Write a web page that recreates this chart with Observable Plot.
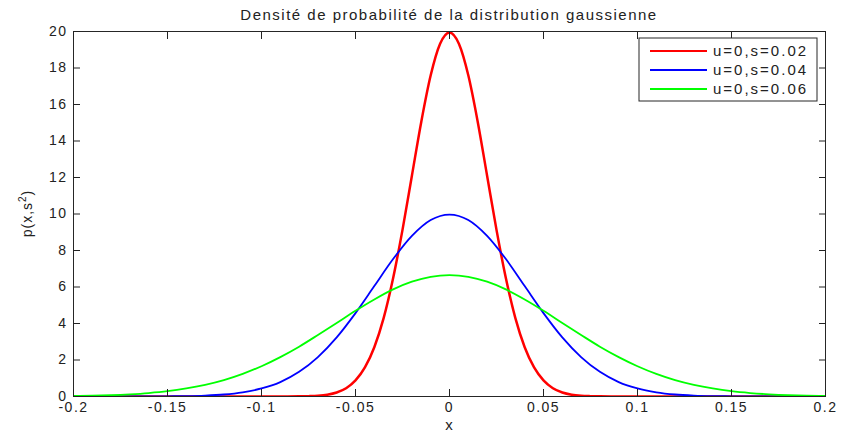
<!DOCTYPE html>
<html>
<head>
<meta charset="utf-8">
<script src="https://cdn.jsdelivr.net/npm/d3@7"></script>
<script src="https://cdn.jsdelivr.net/npm/@observablehq/plot@0.6"></script>
<style>
  html, body { margin: 0; padding: 0; background: #fff; }
  #chart { position: relative; width: 842px; height: 432px; }
</style>
</head>
<body>
<div id="chart"></div>
<script>
const titleText = "Densité de probabilité de la distribution gaussienne";
const xLabel = "x";
const xTicks = [-0.2, -0.15, -0.1, -0.05, 0, 0.05, 0.1, 0.15, 0.2];
const yTicks = [0, 2, 4, 6, 8, 10, 12, 14, 16, 18, 20];
const seriesNames = ["u=0,s=0.02", "u=0,s=0.04", "u=0,s=0.06"];
const seriesColors = ["#ff0000", "#0000ff", "#00ff00"];
const seriesWidths = [2.5, 1.8, 1.8];

// s = 0.02 (red)
const redX = [-0.2, -0.09, -0.08, -0.075, -0.07, -0.065, -0.06, -0.055, -0.05, -0.045, -0.04, -0.035, -0.03, -0.025, -0.02, -0.015, -0.01, -0.005, 0,
              0.005, 0.01, 0.015, 0.02, 0.025, 0.03, 0.035, 0.04, 0.045, 0.05, 0.055, 0.06, 0.065, 0.07, 0.075, 0.08, 0.09, 0.2];
const redY = [0, 0, 0.007, 0.02, 0.044, 0.10, 0.22, 0.45, 0.88, 1.59, 2.70, 4.31, 6.48, 9.13, 12.10, 15.06, 17.60, 19.33, 19.95,
              19.33, 17.60, 15.06, 12.10, 9.13, 6.48, 4.31, 2.70, 1.59, 0.88, 0.45, 0.22, 0.10, 0.044, 0.02, 0.007, 0, 0];

// s = 0.04 (blue) and s = 0.06 (green), on a 0.01 grid
const gridX = [-0.2, -0.19, -0.18, -0.17, -0.16, -0.15, -0.14, -0.13, -0.12, -0.11, -0.1, -0.09, -0.08, -0.07, -0.06, -0.05, -0.04, -0.03, -0.02, -0.01, 0,
               0.01, 0.02, 0.03, 0.04, 0.05, 0.06, 0.07, 0.08, 0.09, 0.1, 0.11, 0.12, 0.13, 0.14, 0.15, 0.16, 0.17, 0.18, 0.19, 0.2];
const blueY = [0, 0, 0, 0, 0, 0.01, 0.02, 0.05, 0.11, 0.23, 0.44, 0.79, 1.35, 2.16, 3.24, 4.57, 6.05, 7.53, 8.80, 9.67, 9.97,
               9.67, 8.80, 7.53, 6.05, 4.57, 3.24, 2.16, 1.35, 0.79, 0.44, 0.23, 0.11, 0.05, 0.02, 0.01, 0, 0, 0, 0, 0];
const greenY = [0.03, 0.04, 0.07, 0.12, 0.19, 0.29, 0.44, 0.64, 0.90, 1.24, 1.66, 2.16, 2.73, 3.37, 4.03, 4.70, 5.32, 5.87, 6.29, 6.56, 6.65,
                6.56, 6.29, 5.87, 5.32, 4.70, 4.03, 3.37, 2.73, 2.16, 1.66, 1.24, 0.90, 0.64, 0.44, 0.29, 0.19, 0.12, 0.07, 0.04, 0.03];

const seriesX = [redX, gridX, gridX];
const seriesY = [redY, blueY, greenY];
const data = seriesNames.map((name, i) => seriesX[i].map((x, j) => ({series: name, x, y: seriesY[i][j]})));

const W = 842, H = 432;
const mL = 73, mR = 17, mT = 31, mB = 36;
const tick = 7;
const fontFamily = "'Liberation Sans', Arial, Helvetica, sans-serif";

const plot = Plot.plot({
  width: W, height: H,
  marginLeft: mL, marginRight: mR, marginTop: mT, marginBottom: mB,
  style: {fontFamily, fontSize: "14px", color: "#222", background: "#fff"},
  x: {domain: [-0.2, 0.2]},
  y: {domain: [0, 20]},
  marks: [
    ...data.map((d, i) => Plot.line(d, {x: "x", y: "y", stroke: seriesColors[i], strokeWidth: seriesWidths[i], curve: "monotone-x", clip: true})),
    Plot.frame({stroke: "#262626", strokeOpacity: 1}),
    Plot.axisX({anchor: "bottom", ticks: xTicks, tickSize: 0, tickPadding: 6, tickFormat: d => String(d), label: null}),
    Plot.axisX({anchor: "bottom", ticks: xTicks, tickSize: tick, dy: -tick, text: null, label: null, strokeOpacity: 1}),
    Plot.axisX({anchor: "top", ticks: xTicks, tickSize: tick, dy: tick, text: null, label: null, strokeOpacity: 1}),
    Plot.axisY({anchor: "left", ticks: yTicks, tickSize: 0, tickPadding: 6, tickFormat: d => String(d), label: null}),
    Plot.axisY({anchor: "left", ticks: yTicks, tickSize: tick, dx: tick, text: null, label: null, strokeOpacity: 1}),
    Plot.axisY({anchor: "right", ticks: yTicks, tickSize: tick, dx: -tick, text: null, label: null, strokeOpacity: 1})
  ]
});
document.getElementById("chart").appendChild(plot);

const svg = d3.select(plot);
svg.selectAll("text").style("letter-spacing", "1.5px");

// title
svg.append("text")
  .attr("x", (mL + W - mR) / 2).attr("y", 19.5)
  .attr("text-anchor", "middle")
  .style("font-family", fontFamily).style("font-size", "15px").style("letter-spacing", "1.5px")
  .attr("fill", "#222")
  .text(titleText);

// x label
svg.append("text")
  .attr("x", (mL + W - mR) / 2).attr("y", 430)
  .attr("text-anchor", "middle")
  .style("font-family", fontFamily).style("font-size", "15px")
  .attr("fill", "#222")
  .text(xLabel);

// y label p(x,s^2)
const yl = svg.append("text")
  .attr("transform", `translate(32,${(mT + H - mB) / 2}) rotate(-90)`)
  .attr("text-anchor", "middle")
  .style("font-family", fontFamily).style("font-size", "14px").style("letter-spacing", "1px")
  .attr("fill", "#222");
yl.append("tspan").text("p(x,s");
yl.append("tspan").attr("dy", -6).style("font-size", "10px").text("2");
yl.append("tspan").attr("dy", 6).text(")");

// legend
const lg = svg.append("g").attr("transform", "translate(639,38)");
lg.append("rect").attr("width", 178).attr("height", 63).attr("fill", "#fff").attr("stroke", "#262626").attr("stroke-width", 1);
seriesNames.forEach((name, i) => {
  const yy = 13 + i * 19;
  lg.append("line").attr("x1", 11).attr("x2", 68).attr("y1", yy).attr("y2", yy)
    .attr("stroke", seriesColors[i]).attr("stroke-width", 2);
  lg.append("text").attr("x", 74).attr("y", yy).attr("dy", "0.36em")
    .attr("text-anchor", "start")
    .style("font-family", fontFamily).style("font-size", "15px").style("letter-spacing", "2px")
    .attr("fill", "#222").text(name);
});
</script>
</body>
</html>
